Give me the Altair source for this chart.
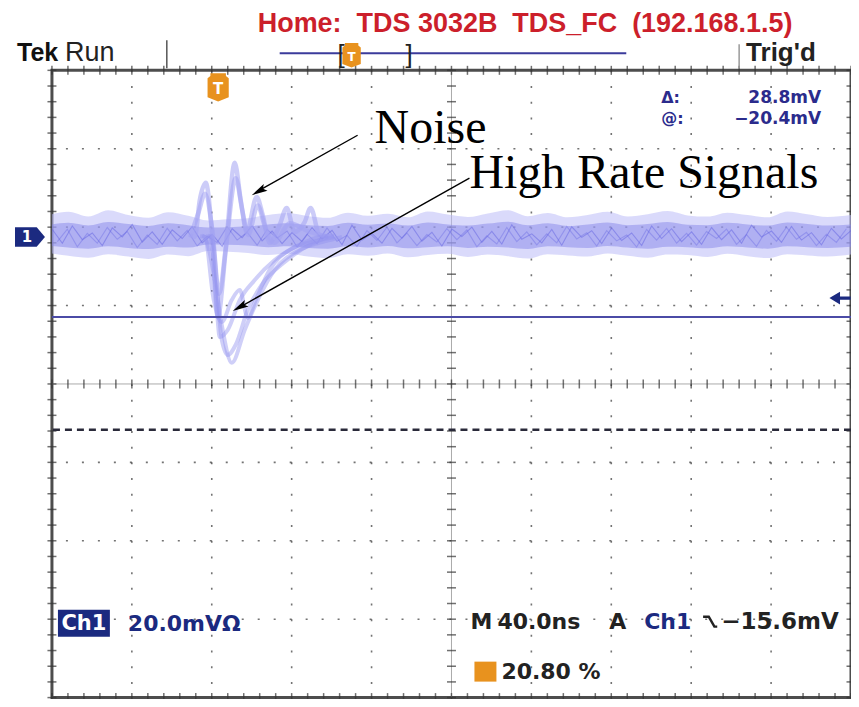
import altair as alt
import pandas as pd

# ---- scope settings: 40 ns/div (10 div), 20 mV/div (8 div), trigger at 20.8 %
X_MIN, X_MAX = -83.2, 316.8
Y_MIN, Y_MAX = -117.5, 42.5
W, H = 800, 628

# ---- baseline noise band (ns / mV)
T_BAND = [-83.2, -75, -65, -55, -45, -35, -25, -15, -5, 5, 15, 25, 35, 45, 55, 65, 75, 85, 95, 105,
          115, 125, 135, 145, 155, 165, 175, 185, 195, 205, 215, 225, 235, 245, 255, 265, 275, 285, 295, 305, 316.8]
OUT_HI = [5.8, 6.4, 5.2, 6.8, 5.6, 4.9, 6.3, 5.4, 4.2, 4.5, 4.8, 5.6, 6.1, 5.3, 4.9, 6.2, 5.4, 5.9, 5.0, 6.5,
          5.7, 5.1, 6.0, 6.8, 5.3, 6.1, 5.0, 5.6, 6.4, 5.2, 5.8, 6.6, 5.5, 5.2, 6.2, 5.6, 5.0, 6.5, 5.8, 5.1, 5.6]
OUT_LO = [-4.2, -4.8, -5.3, -4.4, -5.0, -5.6, -4.5, -4.9, -3.6, -3.8, -4.1, -4.6, -4.3, -5.0, -5.4, -4.4, -4.8, -4.2, -5.2, -4.6,
          -4.3, -5.1, -4.5, -4.9, -5.5, -4.4, -4.7, -5.0, -4.2, -4.8, -5.3, -4.5, -4.6, -5.1, -4.3, -4.9, -5.4, -4.4, -4.7, -5.0, -4.5]
IN_HI = [3.2, 3.6, 2.9, 3.8, 3.3, 2.8, 3.5, 3.0, 2.4, 2.5, 2.7, 3.2, 3.5, 3.0, 2.8, 3.6, 3.1, 3.4, 2.9, 3.7,
         3.2, 2.9, 3.4, 3.9, 3.0, 3.5, 2.8, 3.2, 3.7, 3.0, 3.3, 3.8, 3.1, 3.0, 3.6, 3.2, 2.9, 3.7, 3.3, 2.9, 3.2]
IN_LO = [-2.3, -2.7, -3.0, -2.4, -2.8, -3.1, -2.5, -2.7, -1.9, -2.0, -2.2, -2.6, -2.4, -2.8, -3.0, -2.4, -2.7, -2.3, -2.9, -2.6,
         -2.4, -2.8, -2.5, -2.7, -3.1, -2.4, -2.6, -2.8, -2.3, -2.7, -3.0, -2.5, -2.6, -2.9, -2.4, -2.7, -3.0, -2.4, -2.6, -2.8, -2.5]

T_NOISE_A = [-83, -78, -73, -68, -63, -58, -53, -48, -43, -38, -33, -28, -23, -18, -13, -8, -3, 2, 7, 12,
             17, 22, 27, 32, 37, 42, 47, 52, 57, 62, 67, 72, 77, 82, 87, 92, 97, 102, 107, 112,
             117, 122, 127, 132, 137, 142, 147, 152, 157, 162, 167, 172, 177, 182, 187, 192, 197, 202, 207, 212,
             217, 222, 227, 232, 237, 242, 247, 252, 257, 262, 267, 272, 277, 282, 287, 292, 297, 302, 307, 312, 317]
NOISE_A = [1.9, -1.6, 2.8, -0.7, 1.0, -2.2, 2.3, 0.0, 3.2, -1.3,
           1.3, -1.9, 1.8, -0.4, 2.6, -1.5, 0.7, -2.4, 2.1, -0.2,
           2.9, -1.0, 1.5, -1.7, 1.1, -1.2, 2.4, -0.5, 1.7, -2.0,
           3.0, -0.8, 0.9, -1.6, 2.2, -0.3, 2.7, -1.1, 1.2, -2.3,
           2.0, 0.1, 2.5, -1.4, 1.4, -1.8, 3.1, -0.6, 0.8, -1.5,
           1.9, -2.1, 2.6, -0.1, 1.6, -1.7, 2.3, -0.9, 1.0, -2.2,
           2.8, -0.4, 2.1, -1.2, 1.3, -1.9, 2.4, -0.7, 1.8, -1.6,
           3.0, 0.0, 1.5, -1.4, 2.7, -0.8, 1.1, -2.0, 2.2, -0.5, 1.7]
T_NOISE_B = [-80.5, -75.5, -70.5, -65.5, -60.5, -55.5, -50.5, -45.5, -40.5, -35.5, -30.5, -25.5, -20.5, -15.5, -10.5, -5.5,
             -0.5, 4.5, 9.5, 14.5, 19.5, 24.5, 29.5, 34.5, 39.5, 44.5, 49.5, 54.5, 59.5, 64.5, 69.5, 74.5, 79.5, 84.5,
             89.5, 94.5, 99.5, 104.5, 109.5, 114.5, 119.5, 124.5, 129.5, 134.5, 139.5, 144.5, 149.5, 154.5, 159.5,
             164.5, 169.5, 174.5, 179.5, 184.5, 189.5, 194.5, 199.5, 204.5, 209.5, 214.5, 219.5, 224.5, 229.5, 234.5,
             239.5, 244.5, 249.5, 254.5, 259.5, 264.5, 269.5, 274.5, 279.5, 284.5, 289.5, 294.5, 299.5, 304.5, 309.5, 314.5]
NOISE_B = [-1.2, 2.0, -2.5, 0.9, -1.6, 2.4, -0.6, 1.4, -2.7, 0.5,
           -1.9, 2.2, -1.0, 1.7, -2.3, 0.2, -1.4, 2.6, -0.8, 1.2,
           -2.1, 1.9, -0.3, 1.5, -2.6, 0.7, -1.7, 2.3, -1.1, 0.4,
           -2.4, 1.6, -0.9, 2.5, -1.5, 1.0, -2.2, 0.6, -1.3, 2.1,
           -0.7, 1.8, -2.5, 0.3, -1.8, 2.4, -1.2, 1.3, -2.0, 0.8,
           -1.5, 2.7, -0.5, 1.1, -2.3, 1.6, -1.0, 0.5, -2.6, 1.9,
           -0.8, 2.2, -1.6, 0.9, -2.1, 1.4, -0.4, 2.0, -1.9, 0.6,
           -2.4, 1.7, -1.1, 2.5, -0.6, 1.2, -2.2, 0.7, -1.4, 2.1]

# ---- ringing ("Noise") sweeps
RING1_T = [-14, -11.7, -9.2, -6.2, -3.2, -0.2, 3.8, 8.3, 11.3, 14.3, 19.3, 22.3, 25.8, 30.8, 34.3, 38.3, 43.3, 46.3, 50.8, 58.3]
RING1_V = [0.5, 0.0, 9.4, 13.8, 1.8, -20.4, -3.3, 18.9, 9.4, 1.3, 10.2, 5.6, -1.5, 3.1, 7.4, 1.3, 3.8, 7.4, 0.5, 0.0]
RING2_T = [-14, -10, -6.5, -3, 0.5, 4, 8.8, 12, 15, 19.8, 23.5, 28, 36, 45, 55]
RING2_V = [0.0, 6.0, 11.0, 2.0, -14.5, -2.0, 15.0, 7.0, 0.5, 8.0, 2.5, -1.5, 3.5, 1.5, 0.0]

# ---- high-rate (negative) pulses
PA_T = [-8, -6.7, -2, 1.8, 6.8, 13.3, 19.8, 28.3, 40.8, 55.8, 62]
PA_V = [0.3, 0.0, -10.0, -22.4, -32.1, -23.7, -16.1, -8.4, -3.3, -0.8, 0.0]
PB_T = [-6, -4.2, -1.5, 0.8, 4.8, 10.8, 18.3, 28.3, 40.8, 50.8, 58]
PB_V = [0.2, 0.0, -12.0, -25.5, -23.7, -16.1, -11.0, -5.9, -2.0, 0.0, 0.3]
PC_T = [-9, -6.7, -2.2, 1.8, 6.8, 10.8, 14.8, 18.8, 25.8, 35.8, 50.8, 58]
PC_V = [0.2, 0.0, -16.1, -21.7, -16.1, -13.5, -20.6, -16.1, -8.4, -3.3, -0.8, 0.0]
PD_T = [-5, -3.2, 1.8, 4.8, 8.8, 14.8, 21.8, 33.3, 45.8, 55]
PD_V = [0.3, 0.0, -26.2, -30.1, -27.5, -18.6, -12.2, -6.4, -2.0, 0.0]

# ---- cursors / trigger
CURSOR_1 = -20.4
CURSOR_2 = -49.2
TRIG_LEVEL = -15.6

xs = alt.Scale(domain=[X_MIN, X_MAX], nice=False, zero=False)
ys = alt.Scale(domain=[Y_MIN, Y_MAX], nice=False, zero=False)


def X(f="t"):
    return alt.X(f"{f}:Q", scale=xs, axis=None)


def Y(f="v"):
    return alt.Y(f"{f}:Q", scale=ys, axis=None)


ONE = pd.DataFrame({"k": [0]})
layers = []

# graticule
DIV_X = 40.0
DIV_Y = 20.0
grid_x = pd.DataFrame({"t": [X_MIN + DIV_X * k for k in range(1, 10) if k != 5]})
grid_y = pd.DataFrame({"v": [Y_MAX - DIV_Y * k for k in range(1, 8) if k != 4]})
cx = X_MIN + 5 * DIV_X
cy = Y_MAX - 4 * DIV_Y
layers.append(alt.Chart(grid_x).mark_rule(color="#444", strokeWidth=1.6, strokeDash=[2, 13.7], opacity=0.75).encode(x=X()))
layers.append(alt.Chart(grid_y).mark_rule(color="#444", strokeWidth=1.6, strokeDash=[2, 14], opacity=0.75).encode(y=Y()))
layers.append(alt.Chart(pd.DataFrame({"t": [cx]})).mark_rule(color="#aaa", strokeWidth=1).encode(x=X()))
layers.append(alt.Chart(pd.DataFrame({"v": [cy]})).mark_rule(color="#aaa", strokeWidth=1).encode(y=Y()))

sub_x = [X_MIN + DIV_X / 5 * k for k in range(0, 51)]
sub_y = [Y_MIN + DIV_Y / 5 * k for k in range(0, 41)]
tick_h = pd.DataFrame({"t": sub_x * 3, "v": [cy] * 51 + [Y_MIN] * 51 + [Y_MAX] * 51})
tick_v = pd.DataFrame({"t": [cx] * 41 + [X_MIN] * 41 + [X_MAX] * 41, "v": sub_y * 3})
layers.append(alt.Chart(tick_h).mark_tick(orient="vertical", size=9, thickness=1.5, color="#333").encode(x=X(), y=Y()))
layers.append(alt.Chart(tick_v).mark_tick(orient="horizontal", size=9, thickness=1.5, color="#333").encode(x=X(), y=Y()))

# baseline noise band
band = pd.DataFrame({"t": T_BAND, "ohi": OUT_HI, "olo": OUT_LO, "ihi": IN_HI, "ilo": IN_LO})
layers.append(alt.Chart(band).mark_area(color="#bcbcf7", opacity=0.55, interpolate="monotone").encode(x=X(), y=Y("ohi"), y2="olo"))
layers.append(alt.Chart(band).mark_area(color="#8585ea", opacity=0.5, interpolate="monotone").encode(x=X(), y=Y("ihi"), y2="ilo"))
layers.append(alt.Chart(pd.DataFrame({"t": T_NOISE_A, "v": NOISE_A})).mark_line(color="#5a5ae0", strokeWidth=1.1, opacity=0.45).encode(x=X(), y=Y()))
layers.append(alt.Chart(pd.DataFrame({"t": T_NOISE_B, "v": NOISE_B})).mark_line(color="#6a6ae4", strokeWidth=1.1, opacity=0.4).encode(x=X(), y=Y()))

# ringing + pulses
def trace(ts, vs, name):
    return pd.DataFrame({"t": ts, "v": vs, "s": name})

rings = pd.concat([trace(RING1_T, RING1_V, "r1"), trace(RING2_T, RING2_V, "r2")])
pulses = pd.concat([trace(PA_T, PA_V, "a"), trace(PB_T, PB_V, "b"), trace(PC_T, PC_V, "c"), trace(PD_T, PD_V, "d")])
layers.append(alt.Chart(rings).mark_line(color="#a3a3f3", strokeWidth=4.5, opacity=0.55, interpolate="monotone").encode(x=X(), y=Y(), detail="s:N"))
layers.append(alt.Chart(pulses).mark_line(color="#9595f0", strokeWidth=4, opacity=0.45, interpolate="monotone").encode(x=X(), y=Y(), detail="s:N"))

# cursors
layers.append(alt.Chart(pd.DataFrame({"v": [CURSOR_1]})).mark_rule(color="#4b4ba6", strokeWidth=2).encode(y=Y()))
layers.append(alt.Chart(pd.DataFrame({"v": [CURSOR_2]})).mark_rule(color="#2a2a3a", strokeWidth=2.5, strokeDash=[7, 5]).encode(y=Y()))

DARK_BLUE = "#1b2a80"
ORANGE = "#e8921e"

# channel-1 ground marker
layers.append(alt.Chart(pd.DataFrame({"v": [0.0]})).mark_point(
    shape="M-1,-0.65 L0.45,-0.65 L1,0 L0.45,0.65 L-1,0.65 Z", filled=True, size=900, color=DARK_BLUE, opacity=1
).encode(x=alt.value(-22), y=Y()))
layers.append(alt.Chart(pd.DataFrame({"v": [0.0]})).mark_text(
    text="1", color="white", fontSize=15, fontWeight="bold", font="DejaVu Sans"
).encode(x=alt.value(-25), y=Y()))

# trigger level arrow
layers.append(alt.Chart(pd.DataFrame({"v": [TRIG_LEVEL]})).mark_point(
    shape="M-1,0 L0,-0.6 L0,-0.15 L1,-0.15 L1,0.15 L0,0.15 L0,0.6 Z", filled=True, size=450, color=DARK_BLUE, opacity=1
).encode(x=alt.value(789), y=Y()))

# trigger position marker
PIN = "M-0.55,-1 L0.55,-1 L0.55,-0.8 L0.75,-0.65 L0.75,0.7 L0,1 L-0.75,0.7 L-0.75,-0.65 L-0.55,-0.8 Z"
layers.append(alt.Chart(pd.DataFrame({"t": [0.0]})).mark_point(
    shape=PIN, filled=True, size=800, color=ORANGE, opacity=1).encode(x=X(), y=alt.value(17)))
layers.append(alt.Chart(pd.DataFrame({"t": [0.0]})).mark_text(
    text="T", color="white", fontSize=15, fontWeight="bold", font="DejaVu Sans").encode(x=X(), y=alt.value(19)))


def txt(s, x, y, size, color, font="DejaVu Sans", weight="bold", align="left", baseline="middle"):
    return alt.Chart(ONE).mark_text(text=s, fontSize=size, color=color, font=font, fontWeight=weight,
                                    align=align, baseline=baseline).encode(x=alt.value(x), y=alt.value(y))


def rule(x, y, x2, y2, color, width):
    return alt.Chart(ONE).mark_rule(color=color, strokeWidth=width).encode(
        x=alt.value(x), y=alt.value(y), x2=alt.value(x2), y2=alt.value(y2))


# header
layers.append(txt("Home:\u00a0 TDS 3032B\u00a0 TDS_FC\u00a0 (192.168.1.5)", 206, -46, 27, "#cc1f2b", font="Liberation Sans"))
layers.append(txt("Tek", -35, -17, 25, "#111", font="Liberation Sans"))
layers.append(txt("Run", 13, -17, 27, "#222", font="Liberation Sans", weight="normal"))
layers.append(txt("Trig'd", 695, -17, 26, "#222", font="Liberation Sans"))
layers.append(rule(115, -30, 115, -2, "#555", 1.5))
layers.append(rule(688, -26, 688, -2, "#999", 1.5))
layers.append(rule(228, -17, 575, -17, "#3b3b9b", 2))
layers.append(txt("[", 286, -15, 26, "#222", font="Liberation Sans", weight="normal"))
layers.append(txt("]", 354, -15, 26, "#222", font="Liberation Sans", weight="normal"))
layers.append(alt.Chart(ONE).mark_point(shape=PIN, filled=True, size=600, color=ORANGE, opacity=1).encode(
    x=alt.value(300), y=alt.value(-15)))
layers.append(txt("T", 300, -13, 12, "white", align="center"))

# cursor readout
layers.append(txt("\u0394:", 610, 28, 16, "#2b2b8c"))
layers.append(txt("28.8mV", 770, 28, 17, "#2b2b8c", align="right"))
layers.append(txt("@:", 610, 49, 16, "#2b2b8c"))
layers.append(txt("\u221220.4mV", 770, 49, 17, "#2b2b8c", align="right"))

# bottom readouts
layers.append(alt.Chart(ONE).mark_rect(color=DARK_BLUE).encode(
    x=alt.value(6), x2=alt.value(58), y=alt.value(540), y2=alt.value(567)))
layers.append(txt("Ch1", 32, 554, 21, "white", align="center"))
layers.append(txt("20.0mV\u03a9", 76, 554, 22, DARK_BLUE))
layers.append(txt("M", 419, 552, 22, "#222"))
layers.append(txt("40.0ns", 446, 552, 22, "#222"))
layers.append(txt("A", 558, 552, 22, "#222"))
layers.append(txt("Ch1", 593, 552, 22, DARK_BLUE))
layers.append(alt.Chart(ONE).mark_point(shape="M-1,-0.7 L-0.2,-0.7 L0.6,0.7 L1,0.7", filled=False, size=200,
                                         color="#222", strokeWidth=2.5, opacity=1).encode(
    x=alt.value(659), y=alt.value(552)))
layers.append(txt("\u221215.6mV", 670, 552, 23, "#222"))
layers.append(alt.Chart(ONE).mark_rect(color=ORANGE).encode(
    x=alt.value(423), x2=alt.value(445), y=alt.value(592), y2=alt.value(612)))
layers.append(txt("20.80 %", 450, 602, 22, "#222"))

# annotations
layers.append(txt("Noise", 323, 73, 48, "black", font="Liberation Serif", weight="normal", baseline="alphabetic"))
layers.append(txt("High Rate Signals", 418, 118, 48, "black", font="Liberation Serif", weight="normal", baseline="alphabetic"))
layers.append(rule(306, 65, 208, 120, "black", 1.4))
layers.append(rule(418, 108, 190, 236, "black", 1.4))
HEAD = "M0,-1 L0.38,0.6 L0,0.3 L-0.38,0.6 Z"
layers.append(alt.Chart(ONE).mark_point(shape=HEAD, filled=True, size=400, color="black", opacity=1, angle=240.5).encode(
    x=alt.value(208.7), y=alt.value(120.1)))
layers.append(alt.Chart(ONE).mark_point(shape=HEAD, filled=True, size=400, color="black", opacity=1, angle=240.7).encode(
    x=alt.value(189.7), y=alt.value(236.1)))

chart = alt.layer(*layers).properties(
    width=W, height=H,
    padding={"left": 44, "top": 62, "right": 0, "bottom": 1},
    autosize=alt.AutoSizeParams(type="none"),
    background="white",
).configure_view(stroke="#4d4d4d", strokeWidth=3)

chart.save("out.html", embed_options={"renderer": "svg", "actions": False})
